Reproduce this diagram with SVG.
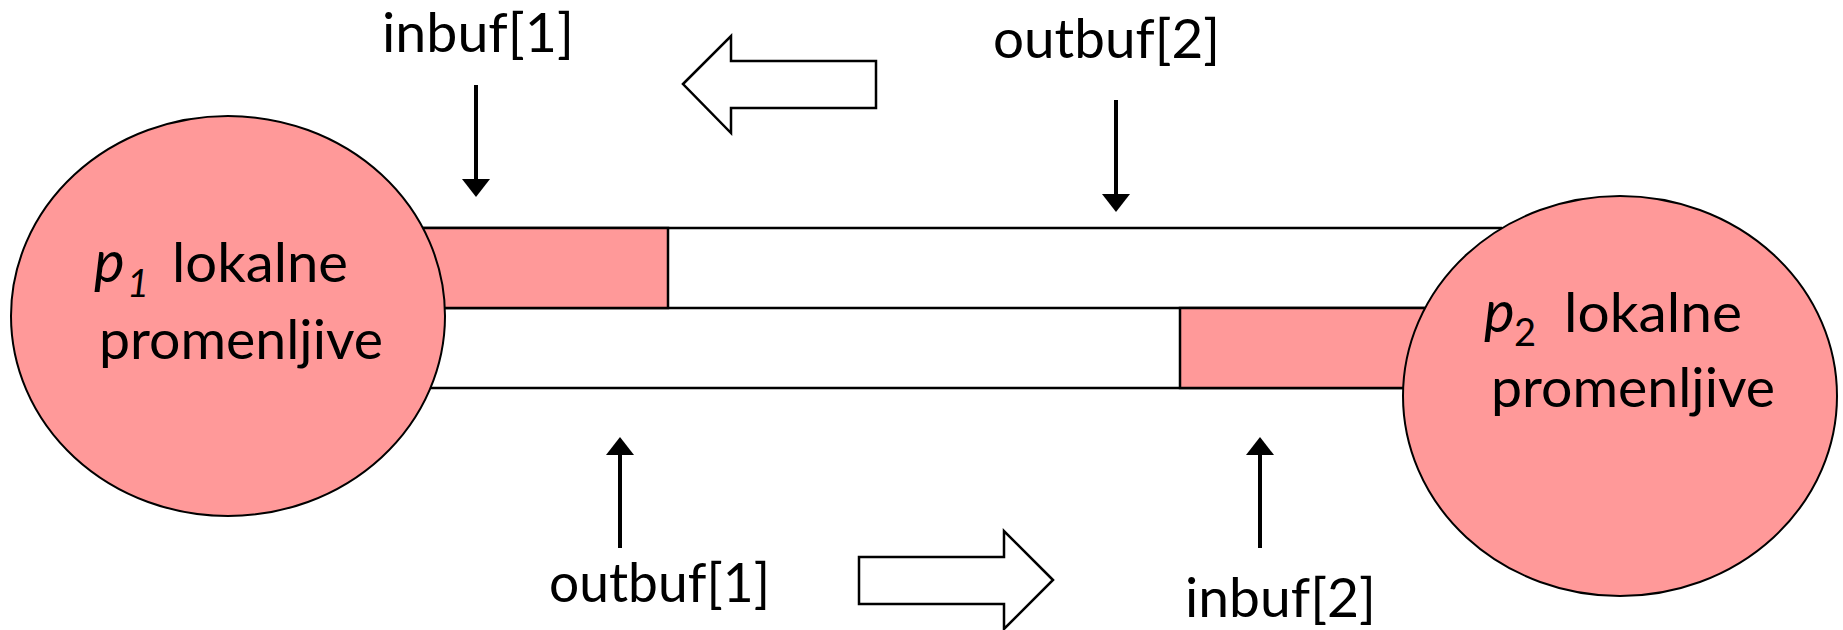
<svg xmlns="http://www.w3.org/2000/svg" width="1843" height="630" viewBox="0 0 1843 630">
<style>
.t{font-family:"Lato","Liberation Sans",sans-serif;font-size:54px;fill:#000}
.sub{font-size:38px}
.it{font-style:italic}
.ch{stroke:#000;stroke-width:2.5;fill:none}
.buf{fill:#FF9999;stroke:#000;stroke-width:2.5}
.proc{fill:#FF9999;stroke:#000;stroke-width:2}
.thin{stroke:#000;stroke-width:4;fill:none}
.block{fill:#fff;stroke:#000;stroke-width:2.5}
</style>
<defs>
<marker id="ah" viewBox="0 0 18 28" refX="12" refY="14" markerWidth="18" markerHeight="28" markerUnits="userSpaceOnUse" orient="auto">
<path d="M0,0 L18,14 L0,28 Z" fill="#000"/>
</marker>
</defs>
<g id="channel">
<line class="ch" x1="400" y1="228" x2="1502" y2="228"/>
<line class="ch" x1="420" y1="308" x2="1440" y2="308"/>
<line class="ch" x1="410" y1="388" x2="1420" y2="388"/>
</g>
<g id="buffer1">
<rect class="buf" x="400" y="228" width="268" height="80"/>
</g>
<g id="buffer2">
<rect class="buf" x="1180" y="308" width="270" height="80"/>
</g>
<g id="p1">
<ellipse class="proc" cx="228" cy="316" rx="217" ry="200"/>
<text class="t" y="282"><tspan class="it" x="94" font-size="58">p</tspan><tspan class="it sub" x="127" y="297">1</tspan></text>
<text class="t" x="172" y="282" textLength="176" lengthAdjust="spacingAndGlyphs">lokalne</text>
<text class="t" x="99" y="359" textLength="284" lengthAdjust="spacingAndGlyphs">promenljive</text>
</g>
<g id="p2">
<ellipse class="proc" cx="1620" cy="396" rx="217" ry="200"/>
<text class="t" y="332"><tspan class="it" x="1484" font-size="58">p</tspan><tspan class="sub" x="1514" y="346">2</tspan></text>
<text class="t" x="1564" y="332" textLength="178" lengthAdjust="spacingAndGlyphs">lokalne</text>
<text class="t" x="1491" y="407" textLength="284" lengthAdjust="spacingAndGlyphs">promenljive</text>
</g>
<g id="labels">
<text class="t" x="382" y="52" textLength="192" lengthAdjust="spacingAndGlyphs">inbuf[1]</text>
<text class="t" x="993" y="58" textLength="227" lengthAdjust="spacingAndGlyphs">outbuf[2]</text>
<text class="t" x="549" y="602" textLength="221" lengthAdjust="spacingAndGlyphs">outbuf[1]</text>
<text class="t" x="1185" y="617" textLength="191" lengthAdjust="spacingAndGlyphs">inbuf[2]</text>
</g>
<g id="connectors">
<line class="thin" x1="476" y1="85" x2="476" y2="191" marker-end="url(#ah)"/>
<line class="thin" x1="1116" y1="100" x2="1116" y2="206" marker-end="url(#ah)"/>
<line class="thin" x1="620" y1="548" x2="620" y2="443" marker-end="url(#ah)"/>
<line class="thin" x1="1260" y1="548" x2="1260" y2="443" marker-end="url(#ah)"/>
<polygon class="block" points="683,84 731,36 731,61 876,61 876,108 731,108 731,133"/>
<polygon class="block" points="1053,580 1004,531 1004,557 859,557 859,604 1004,604 1004,629"/>
</g>
</svg>
